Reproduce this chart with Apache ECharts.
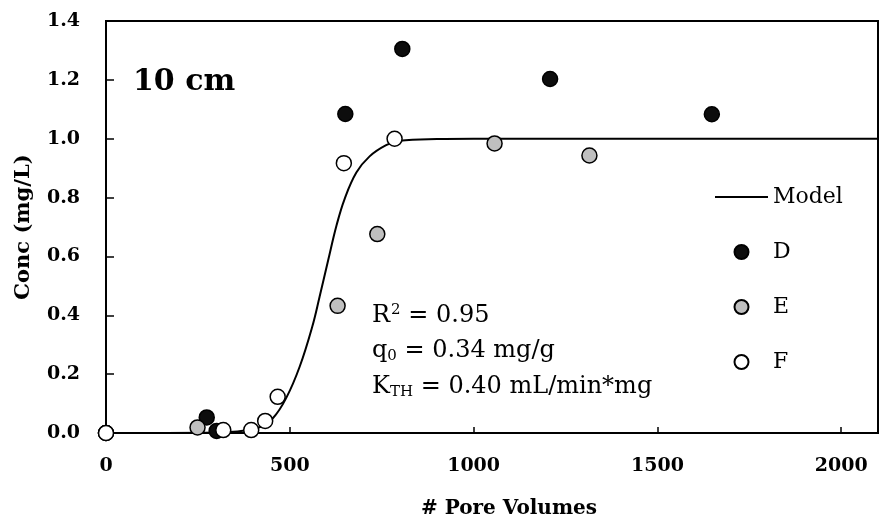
<!DOCTYPE html>
<html>
<head>
	<meta charset="utf-8">
	<script type="text/javascript" src="https://cdn.jsdelivr.net/npm/echarts@6/dist/echarts.min.js"></script>
</head>
<body style="margin:0">

<div id="main" style="width:880px;height:521px;"></div>

<script type="text/javascript">

  var chart = echarts.init(document.getElementById('main'));

  // measured points (pore volumes, conc mg/L)
  var dX = [0, 274, 301, 651, 806, 1208, 1648];
  var dY = [0, 0.053, 0.007, 1.084, 1.305, 1.203, 1.083];
  var eX = [0, 249, 630, 738, 1057, 1315];
  var eY = [0, 0.019, 0.432, 0.676, 0.984, 0.943];
  var fX = [0, 319, 395, 433, 467, 647, 785];
  var fY = [0, 0.010, 0.010, 0.041, 0.123, 0.917, 1.0];
  // model curve
  var modelX = [0, 300, 414, 455, 491, 527, 561, 581, 604, 627, 649, 681, 717, 762, 798, 900, 1000, 2100];
  var modelY = [0, 0.002, 0.018, 0.052, 0.121, 0.226, 0.361, 0.463, 0.585, 0.705, 0.795, 0.885, 0.940, 0.978, 0.993, 0.999, 1.0, 1.0];

  function pairs(xs, ys) {
    var out = [];
    for (var i = 0; i < xs.length; i++) out.push([xs[i], ys[i]]);
    return out;
  }

  var serif = 'DejaVu Serif';

  function dots(name, xs, ys, fill) {
    return {
      name: name,
      type: 'scatter',
      symbol: 'circle',
      symbolSize: 15,
      itemStyle: { color: fill, borderColor: '#000', borderWidth: 1.5, opacity: 1 },
      data: pairs(xs, ys)
    };
  }

  var option = {
    animation: false,
    grid: {
      left: 106, right: 2, top: 21, bottom: 88,
      show: true, borderColor: '#000', borderWidth: 2,
      outerBoundsMode: 'none'
    },
    xAxis: {
      type: 'value',
      min: 0, max: 2100, interval: 500,
      name: '# Pore Volumes',
      nameLocation: 'middle',
      nameGap: 66,
      nameTextStyle: { fontFamily: serif, fontWeight: 'bold', fontSize: 20, color: '#000', padding: [0, 0, 0, 34] },
      axisLine: { lineStyle: { color: '#000', width: 2 } },
      axisTick: { inside: true, length: 6, lineStyle: { color: '#000', width: 1.5 } },
      axisLabel: {
        showMaxLabel: false, margin: 24, fontFamily: serif, fontWeight: 'bold', fontSize: 19, color: '#000',
        formatter: function (v) { return String(v); }
      },
      splitLine: { show: false }
    },
    yAxis: {
      type: 'value',
      min: 0, max: 1.4, interval: 0.2,
      name: 'Conc (mg/L)',
      nameLocation: 'middle',
      nameGap: 72,
      nameTextStyle: { fontFamily: serif, fontWeight: 'bold', fontSize: 21, color: '#000' },
      axisLine: { lineStyle: { color: '#000', width: 2 } },
      axisTick: { inside: true, length: 8, lineStyle: { color: '#000', width: 1.5 } },
      axisLabel: {
        margin: 26, fontFamily: serif, fontWeight: 'bold', fontSize: 19, color: '#000',
        formatter: function (v) { return v.toFixed(1); }
      },
      splitLine: { show: false }
    },
    legend: {
      orient: 'vertical',
      left: 715, top: 186,
      padding: 0,
      itemWidth: 53, itemHeight: 14, itemGap: 33,
      data: [
        { name: 'Model', icon: 'path://M0,0L53,0L53,2L0,2Z', itemStyle: { color: '#000', borderWidth: 0 } },
        'D', 'E', 'F'
      ],
      textStyle: { fontFamily: serif, fontSize: 22, color: '#000' }
    },
    graphic: [
      {
        type: 'text', left: 133, top: 67,
        style: { text: '10 cm', font: 'bold 30px "DejaVu Serif"', fill: '#000' }
      },
      {
        type: 'text', left: 372, top: 303,
        style: {
          text: '{t|R}{sup|2}{t| = 0.95}',
          rich: {
            t: { fontFamily: serif, fontSize: 24, fill: '#000', lineHeight: 28 },
            sup: { fontFamily: serif, fontSize: 15, fill: '#000', padding: [0, 0, 10, 1] }
          }
        }
      },
      {
        type: 'text', left: 372, top: 339,
        style: {
          text: '{t|q}{sub|0}{t| = 0.34 mg/g}',
          rich: {
            t: { fontFamily: serif, fontSize: 24, fill: '#000', lineHeight: 28 },
            sub: { fontFamily: serif, fontSize: 15, fill: '#000', padding: [10, 0, 0, 0] }
          }
        }
      },
      {
        type: 'text', left: 372, top: 375,
        style: {
          text: '{t|K}{sub|TH}{t| = 0.40 mL/min*mg}',
          rich: {
            t: { fontFamily: serif, fontSize: 24, fill: '#000', lineHeight: 28 },
            sub: { fontFamily: serif, fontSize: 15, fill: '#000', padding: [10, 0, 0, 0] }
          }
        }
      }
    ],
    series: [
      {
        name: 'Model',
        type: 'line',
        data: pairs(modelX, modelY),
        symbol: 'none',
        smooth: 0.4,
        lineStyle: { color: '#000', width: 2 },
        itemStyle: { color: '#000' },
        z: 1
      },
      dots('D', dX, dY, '#0d0d0d'),
      dots('E', eX, eY, '#bfbfbf'),
      dots('F', fX, fY, '#ffffff')
    ]
  };

  chart.setOption(option);
</script>
</body>
</html>
